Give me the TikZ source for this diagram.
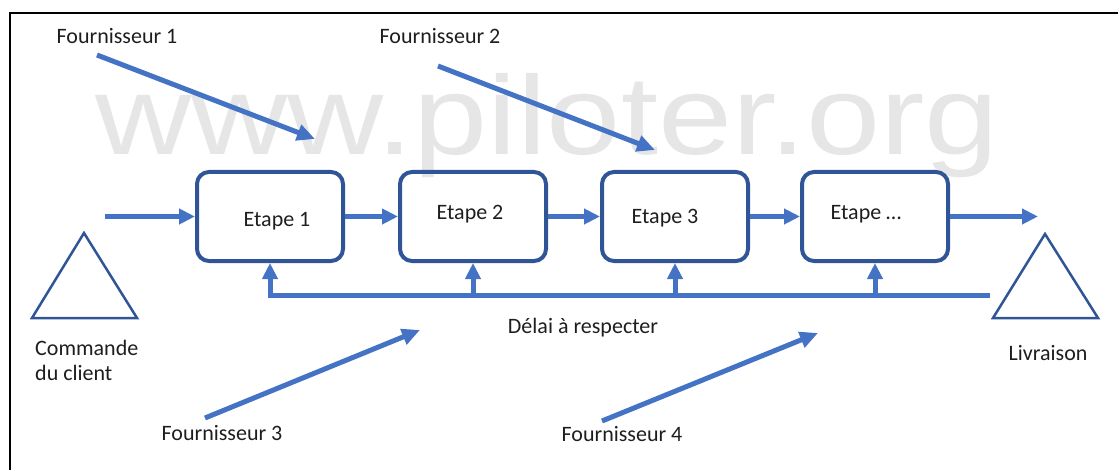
\documentclass[tikz,border=0pt]{standalone}
\usepackage{fontspec}
\setmainfont{Carlito}
\newfontfamily\sitefont{Liberation Sans}
\usetikzlibrary{arrows.meta}
\definecolor{flow}{HTML}{4472C4}
\definecolor{boxline}{HTML}{2F5597}
\definecolor{ink}{HTML}{1E1E1E}
\definecolor{faint}{HTML}{E6E6E6}
\begin{document}
\begin{tikzpicture}[x=1pt,y=-1pt,
  stepbox/.style={draw=boxline, line width=4pt, rounded corners=12pt,
    minimum width=146pt, minimum height=89pt, inner sep=0pt,
    text=ink, font=\fontsize{22}{26}\selectfont},
  lab/.style={text=ink, font=\fontsize{22}{25}\selectfont, inner sep=0pt},
  flowarrow/.style={draw=flow, line width=5pt,
    -{Triangle[length=16pt,width=15pt]}},
  supply/.style={draw=flow, line width=5pt,
    -{Triangle[length=18pt,width=16pt]}},
  milestone/.style={draw=boxline, line width=2.5pt, line join=miter}
]
\useasboundingbox (0,0) rectangle (1118,470);

% frame along the top and left edges
\draw[black, line width=2pt] (1118,13) -- (10,13) -- (10,470);

% background site name
\node[anchor=base west, inner sep=0pt, text=faint, xscale=1.19,
  font=\sitefont\fontsize{112}{112}\selectfont] (site) at (95,155) {www.piloter.org};

% process steps
\node[stepbox] (b1) at (270,216.5) {};
\node[stepbox] (b2) at (473,216.5) {};
\node[stepbox] (b3) at (675,216.5) {};
\node[stepbox] (b4) at (875,216.5) {};
\node[lab] (e1) at ([xshift=7pt,yshift=-5pt]b1.center) {Etape 1};
\node[lab] (e2) at ([xshift=-3pt,yshift=2pt]b2.center) {Etape 2};
\node[lab] (e3) at ([xshift=-10pt,yshift=-2pt]b3.center) {Etape 3};
\node[lab] (e4) at ([xshift=-9pt,yshift=2pt]b4.center) {Etape \dots};

% start and end milestones
\draw[milestone] (32,318) -- (84,233) -- (137,318) -- cycle;
\draw[milestone] (993,318) -- (1045,234) -- (1098,318) -- cycle;
\node[lab, anchor=west, align=left] (order) at (35,360) {Commande\\du client};
\node[lab] (deliv) at (1048,353) {Livraison};

% main flow
\coordinate (in) at (105,216.5);
\coordinate (out) at (1038,216.5);
\draw[flowarrow] (in) -- (b1.west);
\draw[flowarrow] (b1.east) -- (b2.west);
\draw[flowarrow] (b2.east) -- (b3.west);
\draw[flowarrow] (b3.east) -- (b4.west);
\draw[flowarrow] (b4.east) -- (out);

% deadline bus feeding every step
\coordinate (bus) at (990,295);
\draw[flowarrow] (bus) -- (b1.south |- bus) -- (b1.south);
\draw[flowarrow] (b2.south |- bus) -- (b2.south);
\draw[flowarrow] (b3.south |- bus) -- (b3.south);
\draw[flowarrow] (b4.south |- bus) -- (b4.south);
\node[lab] (delay) at (583,328) {Délai à respecter};

% suppliers
\node[lab] (f1) at (117,36) {Fournisseur 1};
\node[lab] (f2) at (440,36) {Fournisseur 2};
\node[lab] (f3) at (222,433) {Fournisseur 3};
\node[lab] (f4) at (622,434) {Fournisseur 4};
\coordinate (s1) at (97,55);   \coordinate (t1) at (315,139);
\coordinate (s2) at (438,66);  \coordinate (t2) at (655,150);
\coordinate (s3) at (205,418); \coordinate (t3) at (420,330);
\coordinate (s4) at (602,421); \coordinate (t4) at (818,333);
\draw[supply] (s1) -- (t1);
\draw[supply] (s2) -- (t2);
\draw[supply] (s3) -- (t3);
\draw[supply] (s4) -- (t4);
\end{tikzpicture}
\end{document}
